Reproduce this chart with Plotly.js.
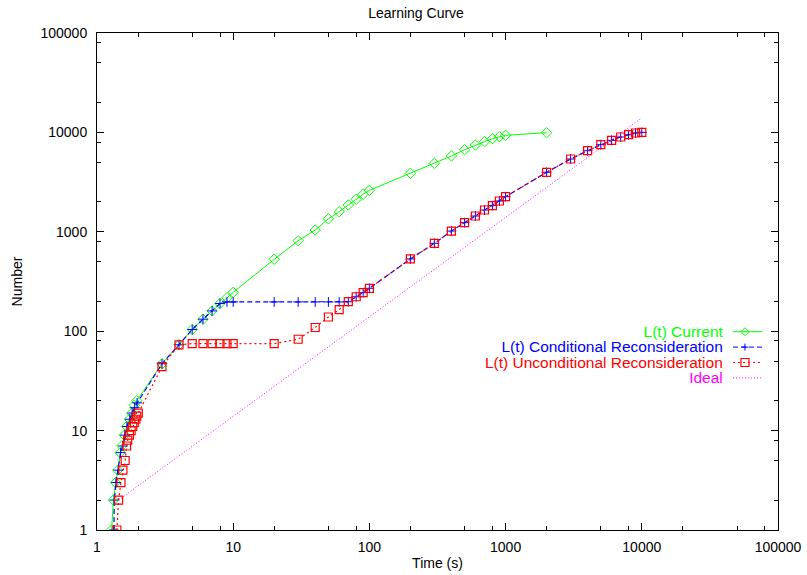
<!DOCTYPE html>
<html>
<head>
<meta charset="utf-8">
<script src="https://cdn.plot.ly/plotly-3.0.1.min.js"></script>
<style>html,body{margin:0;padding:0;background:#fff;}#chart{width:807px;height:575px;}</style>
</head>
<body>
<div id="chart"></div>
<script>
// ---- data ----
const seriesNames = ["L(t) Current", "L(t) Conditional Reconsideration", "L(t) Unconditional Reconsideration", "Ideal"];

const tCurrent = [1.28,1.32,1.37,1.42,1.48,1.52,1.59,1.65,1.73,1.8,1.88,1.96,3,4,5,6,7,8,9,10,20,30,40,50,60,70,80,90,100,200,300,400,500,600,700,800,900,1000,2000];
const nCurrent = [1,2,3,4,6,7,9,11,13,15,18,20,47,73,104,132,160,190,217,246,529,813,1042,1352,1593,1862,2125,2385,2614,3882,4887,5791,6700,7470,8060,8650,9060,9350,9930];

const tConditional = [1.33,1.34,1.38,1.43,1.49,1.55,1.6,1.66,1.74,1.81,1.89,1.97,3,4,5,6,7,8,9,10,20,30,40,50,60,70,80,90,100,200,300,400,500,600,700,800,900,1000,2000,3000,4000,5000,6000,7000,8000,9000,10000];
const nConditional = [1,2,3,4,6,7,9,11,13,15,17,19,47,73,104,132,160,190,197,197,197,197,197,197,197,198,222,244,270,533,766,1018,1236,1442,1657,1832,2041,2256,3970,5400,6545,7520,8320,8990,9480,9860,10000];

const tUnconditional = [1.40,1.44,1.50,1.55,1.61,1.65,1.68,1.73,1.78,1.83,1.88,1.93,1.96,2.01,3,4,5,6,7,8,9,10,20,30,40,50,60,70,80,90,100,200,300,400,500,600,700,800,900,1000,2000,3000,4000,5000,6000,7000,8000,9000,10000];
const nUnconditional = [1,2,3,4,5,7,8,9,10,11,12,13,14,15,44,73,75,75,75,75,75,75,75,83,109,139,165,198,222,244,270,533,766,1018,1236,1442,1657,1832,2041,2256,3970,5400,6545,7520,8320,8990,9480,9860,10000];

const tIdeal = [1.44, 10000];
const nIdeal = [2, 14000];

const majorTicks = [1,10,100,1000,10000,100000];
const majorTickText = ["1","10","100","1000","10000","100000"];
const minorTicks = [2,5,8,20,50,80,200,500,800,2000,5000,8000,20000,50000,80000];

const titleText = "Learning Curve";
const xTitle = "Time (s)";
const yTitle = "Number";
const colors = ["#00ff00", "#0000ff", "#ff0000", "#ff00ff"];

// ---- figure ----
const FONT = "Liberation Sans, Arial, Helvetica, sans-serif";
const traces = [
  {x: tCurrent, y: nCurrent, name: seriesNames[0], mode: "lines+markers",
   line: {color: colors[0], width: 1},
   marker: {symbol: "diamond-open", size: 8, color: colors[0], line: {width: 1, color: colors[0]}}},
  {x: tConditional, y: nConditional, name: seriesNames[1], mode: "lines+markers",
   line: {color: colors[1], width: 1.2, dash: "5px,3px"},
   marker: {symbol: "cross-thin", size: 7, color: colors[1], line: {width: 1, color: colors[1]}}},
  {x: tUnconditional, y: nUnconditional, name: seriesNames[2], mode: "lines+markers",
   line: {color: colors[2], width: 1.2, dash: "2px,3px"},
   marker: {symbol: "square-open", size: 8, color: colors[2], line: {width: 1.2, color: colors[2]}}},
  {x: tIdeal, y: nIdeal, name: seriesNames[3], mode: "lines",
   line: {color: colors[3], width: 1, dash: "1px,2px"}}
];

function axis(title) {
  return {
    type: "log", range: [0, 5], autorange: false,
    showline: true, linecolor: "#000", linewidth: 1, mirror: "ticks",
    showgrid: false, zeroline: false,
    tickmode: "array", tickvals: majorTicks, ticktext: majorTickText,
    ticks: "inside", ticklen: 7, tickwidth: 1, tickcolor: "#000",
    minor: {tickmode: "array", tickvals: minorTicks, ticks: "inside", ticklen: 4, tickwidth: 1, tickcolor: "#000"},
    tickfont: {family: FONT, size: 14, color: "#000"},
    title: {text: title, font: {family: FONT, size: 14, color: "#000"}}
  };
}

const xa = axis(xTitle); xa.title.standoff = 4; xa.ticklabelstandoff = 4;
const ya = axis(yTitle); ya.title.standoff = 14; ya.ticklabelstandoff = 6;

// legend drawn gnuplot-style: right-aligned text block, samples on the right
const legendRowsY = [0.399, 0.368, 0.337, 0.306];
const legX0 = 0.934, legX1 = 0.9765, legMark = 0.9515, legTextX = 0.9205;
const dashes = ["solid", "5px,3px", "2px,3px", "1px,2px"];
const shapes = [];
const legendText = seriesNames.map((nm, i) =>
  '<span style="color:' + colors[i] + ';font-size:15.5px">' + nm + '</span>').join('<br>');
const annotations = [{xref: "paper", yref: "paper", x: legTextX, y: (legendRowsY[0] + legendRowsY[3]) / 2,
  xanchor: "right", yanchor: "middle", align: "right", text: legendText, showarrow: false, borderpad: 0,
  font: {family: FONT, size: 11.9, color: "#000"}}];
seriesNames.forEach((nm, i) => {
  shapes.push({type: "line", xref: "paper", yref: "paper", x0: legX0, x1: legX1, y0: legendRowsY[i], y1: legendRowsY[i],
    line: {color: colors[i], width: 1, dash: dashes[i]}});
});
const pm = {xref: "paper", yref: "paper", xsizemode: "pixel", ysizemode: "pixel", xanchor: legMark};
shapes.push(Object.assign({}, pm, {type: "path", yanchor: legendRowsY[0], path: "M0,-4L4,0L0,4L-4,0Z", line: {color: colors[0], width: 1}}));
shapes.push(Object.assign({}, pm, {type: "line", yanchor: legendRowsY[1], x0: -3.5, x1: 3.5, y0: 0, y1: 0, line: {color: colors[1], width: 1}}));
shapes.push(Object.assign({}, pm, {type: "line", yanchor: legendRowsY[1], x0: 0, x1: 0, y0: -3.5, y1: 3.5, line: {color: colors[1], width: 1}}));
shapes.push(Object.assign({}, pm, {type: "rect", yanchor: legendRowsY[2], x0: -4, x1: 4, y0: -4, y1: 4, line: {color: colors[2], width: 1.2}}));

const layout = {
  width: 807, height: 575,
  margin: {l: 97, r: 29, t: 33, b: 45, pad: 0},
  paper_bgcolor: "#fff", plot_bgcolor: "#fff",
  title: {text: titleText, x: 0.5155, xanchor: "center", y: 0.977, yanchor: "middle", xref: "container", yref: "container",
    font: {family: FONT, size: 14, color: "#000"}},
  showlegend: false,
  xaxis: xa, yaxis: ya,
  annotations: annotations, shapes: shapes
};

Plotly.newPlot("chart", traces, layout, {displayModeBar: false, staticPlot: true});
</script>
</body>
</html>
